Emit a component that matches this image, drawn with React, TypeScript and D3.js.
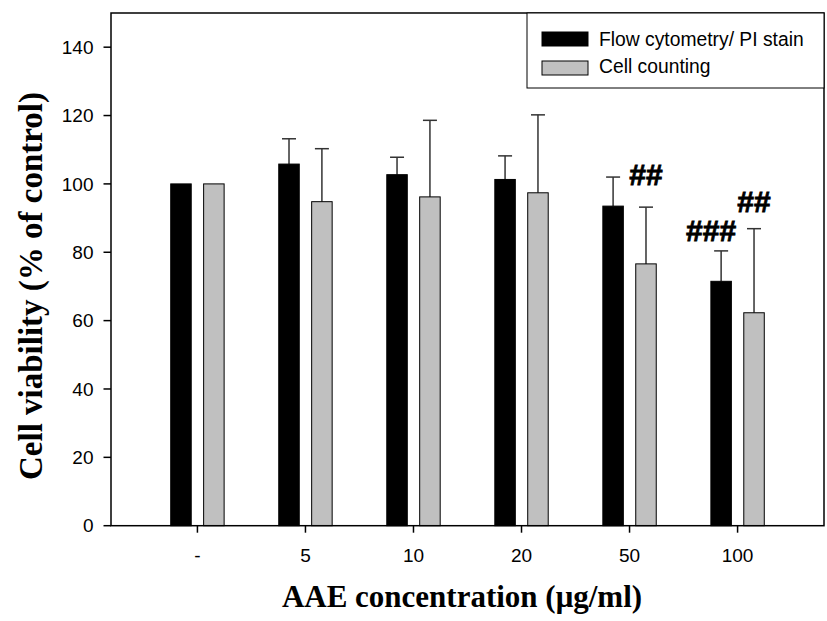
import React from "react";
import * as d3 from "d3";

const categories = ["-", "5", "10", "20", "50", "100"];
const flowMeans = [100, 105.8, 102.7, 101.3, 93.5, 71.5];
const flowErr = [0, 7.4, 5.1, 6.9, 8.5, 8.9];
const countMeans = [100, 94.8, 96.2, 97.4, 76.6, 62.3];
const countErr = [0, 15.5, 22.4, 22.8, 16.6, 24.6];
const yTicks = [0, 20, 40, 60, 80, 100, 120, 140];
const seriesNames = ["Flow cytometry/ PI stain", "Cell counting"];
const seriesColors = ["#000000", "#c0c0c0"];
// significance marks: category index, series index, label, value where text sits
const marks = [
  { cat: 4, series: 1, label: "##", value: 99.7 },
  { cat: 5, series: 0, label: "###", value: 83.3 },
  { cat: 5, series: 1, label: "##", value: 91.8 },
];

const width = 827;
const height = 621;
const left = 111;
const right = 824;
const top = 13;
const bottom = 525.7;
const barW = 20.5;
const sans = "'Liberation Sans', Arial, sans-serif";
const serif = "'Liberation Serif', 'Times New Roman', serif";

const App = () => {
  const x = d3
    .scaleLinear()
    .domain([-0.8, categories.length - 0.2])
    .range([left, right]);
  const y = d3.scaleLinear().domain([0, 150]).range([bottom, top]);

  const barX = (i, s) => (s === 0 ? x(i) - 6.2 - barW : x(i) + 6.2);
  const series = [
    { means: flowMeans, errs: flowErr },
    { means: countMeans, errs: countErr },
  ];

  return (
    <svg
      width={width}
      height={height}
      style={{ position: "absolute", left: 0, top: 0, background: "#fff" }}
    >
      {series.map((s, si) =>
        s.means.map((m, i) => (
          <g key={`b${si}-${i}`}>
            {s.errs[i] > 0 && (
              <g stroke="#333" strokeWidth={1.5}>
                <line
                  x1={barX(i, si) + barW / 2}
                  x2={barX(i, si) + barW / 2}
                  y1={y(m)}
                  y2={y(m + s.errs[i])}
                />
                <line
                  x1={barX(i, si) + barW / 2 - 7}
                  x2={barX(i, si) + barW / 2 + 7}
                  y1={y(m + s.errs[i])}
                  y2={y(m + s.errs[i])}
                />
              </g>
            )}
            <rect
              x={barX(i, si)}
              y={y(m)}
              width={barW}
              height={y(0) - y(m)}
              fill={seriesColors[si]}
              stroke="#000"
              strokeWidth={1}
            />
          </g>
        ))
      )}

      {marks.map((mk, k) => (
        <text
          key={`m${k}`}
          x={barX(mk.cat, mk.series) + barW / 2 + (mk.label.length > 2 ? -10 : 0)}
          y={y(mk.value)}
          textAnchor="middle"
          fontFamily={sans}
          fontWeight="bold"
          fontSize={30}
          stroke="#000"
          strokeWidth={0.8}
        >
          {mk.label}
        </text>
      ))}

      {/* frame */}
      <rect
        x={left}
        y={top}
        width={right - left}
        height={bottom - top}
        fill="none"
        stroke="#000"
        strokeWidth={1.5}
      />

      {/* y axis */}
      {yTicks.map((t) => (
        <g key={`y${t}`}>
          <line x1={left - 7.5} x2={left} y1={y(t)} y2={y(t)} stroke="#000" strokeWidth={1.5} />
          <text
            x={left - 17.5}
            y={y(t)}
            dy="0.35em"
            textAnchor="end"
            fontFamily={sans}
            fontSize={19}
          >
            {t}
          </text>
        </g>
      ))}

      {/* x axis */}
      {categories.map((c, i) => (
        <g key={`x${c}`}>
          <line x1={x(i)} x2={x(i)} y1={bottom} y2={bottom + 7} stroke="#000" strokeWidth={1.5} />
          <text x={x(i)} y={561.5} textAnchor="middle" fontFamily={sans} fontSize={19}>
            {c}
          </text>
        </g>
      ))}

      <text
        x={462}
        y={607}
        textAnchor="middle"
        fontFamily={serif}
        fontWeight="bold"
        fontSize={31}
      >
        AAE concentration (μg/ml)
      </text>
      <text
        transform={`translate(41.5, 286) rotate(-90)`}
        textAnchor="middle"
        fontFamily={serif}
        fontWeight="bold"
        fontSize={33}
      >
        Cell viability (% of control)
      </text>

      {/* legend */}
      <rect x={527} y={top} width={right - 527} height={75} fill="#fff" stroke="#000" strokeWidth={1} />
      {seriesNames.map((n, i) => (
        <g key={n}>
          <rect
            x={542}
            y={32 + i * 29}
            width={46}
            height={14}
            fill={seriesColors[i]}
            stroke="#000"
            strokeWidth={1}
          />
          <text x={599} y={45.5 + i * 27} fontFamily={sans} fontSize={19.3}>
            {n}
          </text>
        </g>
      ))}
    </svg>
  );
};

export default App;
